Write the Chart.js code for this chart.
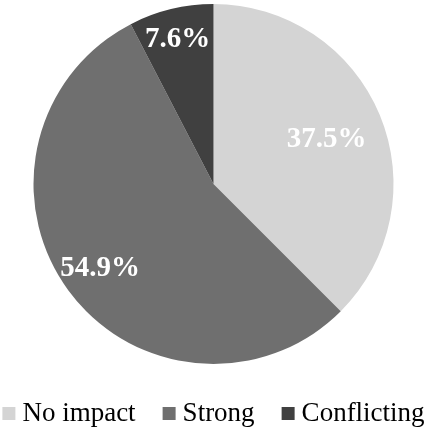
<!DOCTYPE html>
<html>
<head>
<meta charset="utf-8">
<script src="https://cdn.jsdelivr.net/npm/chart.js@4"></script>
<style>
  html, body { margin: 0; padding: 0; background: #fff; }
  #wrap { width: 427px; height: 428px; }
</style>
</head>
<body>
<div id="wrap"><canvas id="pieChart" width="427" height="428"></canvas></div>
<script>
const categories = ["No impact", "Strong", "Conflicting"];
const shares = [37.5, 54.9, 7.6];
const percentLabels = ["37.5%", "54.9%", "7.6%"];

const sliceColors = ["#d4d4d4", "#6f6f6f", "#404040"];
const serif = "'Liberation Serif', 'Times New Roman', serif";

// how far out from the centre each label sits (fraction of radius)
const labelRadius = [0.68, 0.78, 0.84];

const percentLabelPlugin = {
  id: "percentLabels",
  afterDatasetsDraw(chart) {
    const ctx = chart.ctx;
    const meta = chart.getDatasetMeta(0);
    ctx.save();
    ctx.font = "bold 29px " + serif;
    ctx.fillStyle = "#ffffff";
    ctx.textAlign = "center";
    ctx.textBaseline = "middle";
    meta.data.forEach((arc, i) => {
      const mid = (arc.startAngle + arc.endAngle) / 2;
      const r = arc.outerRadius * labelRadius[i];
      const x = arc.x + Math.cos(mid) * r;
      const y = arc.y + Math.sin(mid) * r;
      ctx.fillText(percentLabels[i], x, y + 2);
    });
    ctx.restore();
  }
};

// legend drawn by hand so the box/text gaps match the original
const bottomLegendPlugin = {
  id: "bottomLegend",
  afterDraw(chart) {
    const ctx = chart.ctx;
    const box = 13, boxGap = 7, itemGap = 27;
    const baseline = 421;
    ctx.save();
    ctx.font = "27px " + serif;
    ctx.textBaseline = "alphabetic";
    const widths = categories.map(c => ctx.measureText(c).width);
    const total = widths.reduce((a, b) => a + b, 0) + categories.length * (box + boxGap) + (categories.length - 1) * itemGap;
    let x = (chart.width - total) / 2;
    categories.forEach((c, i) => {
      ctx.fillStyle = sliceColors[i];
      ctx.fillRect(x, baseline - 14, box, box);
      x += box + boxGap;
      ctx.fillStyle = "#000000";
      ctx.fillText(c, x, baseline);
      x += widths[i] + itemGap;
    });
    ctx.restore();
  }
};

function drawChart() {
  new Chart(document.getElementById("pieChart").getContext("2d"), {
    type: "pie",
    data: {
      labels: categories,
      datasets: [{
        data: shares,
        backgroundColor: sliceColors,
        borderWidth: 0
      }]
    },
    options: {
      responsive: false,
      animation: false,
      layout: { padding: { top: 4, bottom: 64, left: 0, right: 0 } },
      plugins: {
        tooltip: { enabled: false },
        legend: { display: false }
      }
    },
    plugins: [percentLabelPlugin, bottomLegendPlugin]
  });
}

Promise.all([
  document.fonts.load("27px 'Liberation Serif'"),
  document.fonts.load("bold 29px 'Liberation Serif'")
]).then(drawChart, drawChart);
</script>
</body>
</html>
